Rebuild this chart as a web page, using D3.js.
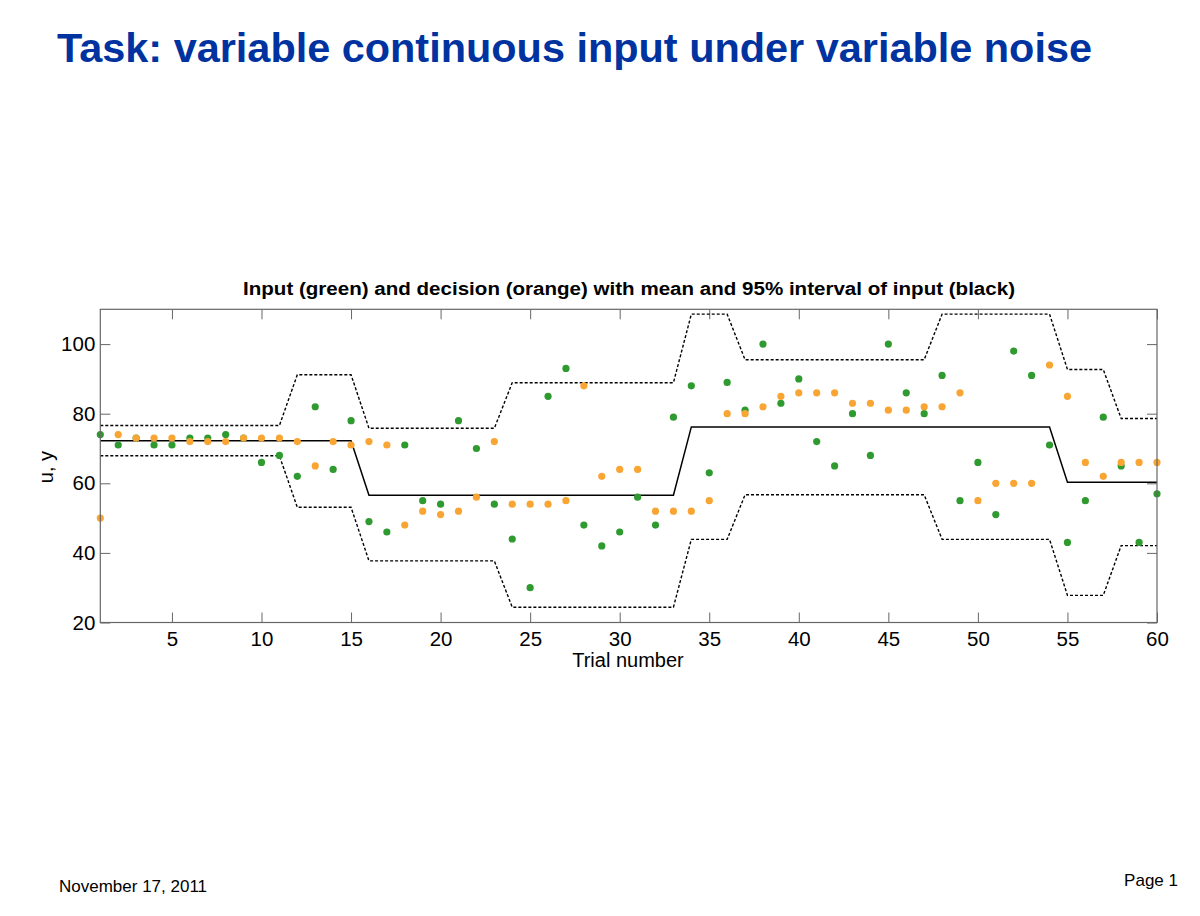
<!DOCTYPE html>
<html>
<head>
<meta charset="utf-8">
<script src="https://cdn.jsdelivr.net/npm/d3@7"></script>
<style>
  html, body { margin: 0; padding: 0; background: #fff; }
  svg { display: block; font-family: "Liberation Sans", Arial, sans-serif; }
</style>
</head>
<body>
<svg id="chart" width="1200" height="916"></svg>
<script>
const trials = d3.range(1, 61);
const inputU = [74,71,73,71,71,73,73,74,73,66, 68,62,82,64,78,49,46,71,55,54,
                78,70,54,44,30,85,93,48,42,46, 56,48,79,88,63,89,81,100,83,90,
                72,65,80,68,100,86,80,91,55,66, 51,98,91,71,43,55,79,65,43,57];
const decisionY = [50,74,73,73,73,72,72,72,73,73, 73,72,65,72,71,72,71,48,52,51,
                   52,56,72,54,54,54,55,88,62,64, 64,52,52,52,55,80,80,82,85,86,
                   86,86,83,83,81,81,82,82,86,55, 60,60,60,94,85,66,62,66,66,66];
const meanU = [72.2,72.2,72.2,72.2,72.2,72.2,72.2,72.2,72.2,72.2, 72.2,72.2,72.2,72.2,72.2,56.6,56.6,56.6,56.6,56.6,
               56.6,56.6,56.6,56.6,56.6,56.6,56.6,56.6,56.6,56.6, 56.6,56.6,56.6,76.2,76.2,76.2,76.2,76.2,76.2,76.2,
               76.2,76.2,76.2,76.2,76.2,76.2,76.2,76.2,76.2,76.2, 76.2,76.2,76.2,76.2,60.3,60.3,60.3,60.3,60.3,60.3];
const upperU = [76.6,76.6,76.6,76.6,76.6,76.6,76.6,76.6,76.6,76.6, 76.6,91.2,91.2,91.2,91.2,75.8,75.8,75.8,75.8,75.8,
                75.8,75.8,75.8,88.9,88.9,88.9,88.9,88.9,88.9,88.9, 88.9,88.9,88.9,108.6,108.6,108.6,95.5,95.5,95.5,95.5,
                95.5,95.5,95.5,95.5,95.5,95.5,95.5,108.6,108.6,108.6, 108.6,108.6,108.6,108.6,92.7,92.7,92.7,78.6,78.6,78.6];
const lowerU = [67.9,67.9,67.9,67.9,67.9,67.9,67.9,67.9,67.9,67.9, 67.9,53.1,53.1,53.1,53.1,37.7,37.7,37.7,37.7,37.7,
                37.7,37.7,37.7,24.4,24.4,24.4,24.4,24.4,24.4,24.4, 24.4,24.4,24.4,43.9,43.9,43.9,56.7,56.7,56.7,56.7,
                56.7,56.7,56.7,56.7,56.7,56.7,56.7,43.9,43.9,43.9, 43.9,43.9,43.9,43.9,27.8,27.8,27.8,42.1,42.1,42.1];
const xTicks = [5,10,15,20,25,30,35,40,45,50,55,60];
const yTicks = [20,40,60,80,100];

const svg = d3.select("#chart");
const x = d3.scaleLinear().domain([1, 60]).range([100.3, 1157]);
const y = d3.scaleLinear().domain([20, 110]).range([622.5, 309.3]);

// Page title
svg.append("text").attr("x", 57).attr("y", 62)
  .attr("font-size", 41).attr("font-weight", "bold").attr("fill", "#0033a0")
  .attr("textLength", 1035).attr("lengthAdjust", "spacingAndGlyphs")
  .text("Task: variable continuous input under variable noise");

// Chart title
svg.append("text").attr("x", 629).attr("y", 295).attr("text-anchor", "middle")
  .attr("font-size", 18).attr("font-weight", "bold").attr("fill", "#000")
  .attr("textLength", 772).attr("lengthAdjust", "spacingAndGlyphs")
  .text("Input (green) and decision (orange) with mean and 95% interval of input (black)");

const frameColor = "#666";
// axes: inward ticks
svg.append("g").attr("transform", `translate(0,${y(20)})`)
  .call(d3.axisBottom(x).tickValues(xTicks).tickSize(-10).tickPadding(9).tickFormat(d3.format("d")))
  .call(g => { g.select(".domain").remove(); g.selectAll("line").attr("stroke", frameColor);
    g.selectAll("text").attr("font-size", 20.5).attr("fill", "#000").attr("font-family", "Liberation Sans, Arial, sans-serif"); });
svg.append("g").attr("transform", `translate(0,${y(110)})`)
  .call(d3.axisTop(x).tickValues(xTicks).tickSize(-10).tickFormat(""))
  .call(g => { g.select(".domain").remove(); g.selectAll("line").attr("stroke", frameColor); });
svg.append("g").attr("transform", `translate(${x(1)},0)`)
  .call(d3.axisLeft(y).tickValues(yTicks).tickSize(-10).tickPadding(5).tickFormat(d3.format("d")))
  .call(g => { g.select(".domain").remove(); g.selectAll("line").attr("stroke", frameColor);
    g.selectAll("text").attr("font-size", 20.5).attr("fill", "#000").attr("font-family", "Liberation Sans, Arial, sans-serif"); });
svg.append("g").attr("transform", `translate(${x(60)},0)`)
  .call(d3.axisRight(y).tickValues(yTicks).tickSize(-10).tickFormat(""))
  .call(g => { g.select(".domain").remove(); g.selectAll("line").attr("stroke", frameColor); });

// lines
const lineGen = arr => d3.line().x((d, i) => x(trials[i])).y(d => y(d))(arr);
svg.append("path").attr("d", lineGen(upperU)).attr("fill", "none").attr("stroke", "#000")
  .attr("stroke-width", 1.4).attr("stroke-dasharray", "3,2");
svg.append("path").attr("d", lineGen(lowerU)).attr("fill", "none").attr("stroke", "#000")
  .attr("stroke-width", 1.4).attr("stroke-dasharray", "3,2");
svg.append("path").attr("d", lineGen(meanU)).attr("fill", "none").attr("stroke", "#000")
  .attr("stroke-width", 1.5);

// points
svg.append("g").selectAll("circle").data(inputU).join("circle")
  .attr("cx", (d, i) => x(trials[i])).attr("cy", d => y(d)).attr("r", 3.6).attr("fill", "#2f9a2f");
svg.append("g").selectAll("circle").data(decisionY).join("circle")
  .attr("cx", (d, i) => x(trials[i])).attr("cy", d => y(d)).attr("r", 3.6).attr("fill", "#f8a533");

// frame
svg.append("rect").attr("x", x(1)).attr("y", y(110)).attr("width", x(60) - x(1)).attr("height", y(20) - y(110))
  .attr("fill", "none").attr("stroke", frameColor).attr("stroke-width", 1.2);

// axis labels
svg.append("text").attr("x", 628).attr("y", 667).attr("text-anchor", "middle")
  .attr("font-size", 20).text("Trial number");
svg.append("text").attr("transform", "translate(53,467) rotate(-90)").attr("text-anchor", "middle")
  .attr("font-size", 20).text("u, y");

// footer
svg.append("text").attr("x", 59).attr("y", 892).attr("font-size", 17).text("November 17, 2011");
svg.append("text").attr("x", 1178).attr("y", 886).attr("text-anchor", "end").attr("font-size", 17).text("Page 1");
</script>
</body>
</html>
